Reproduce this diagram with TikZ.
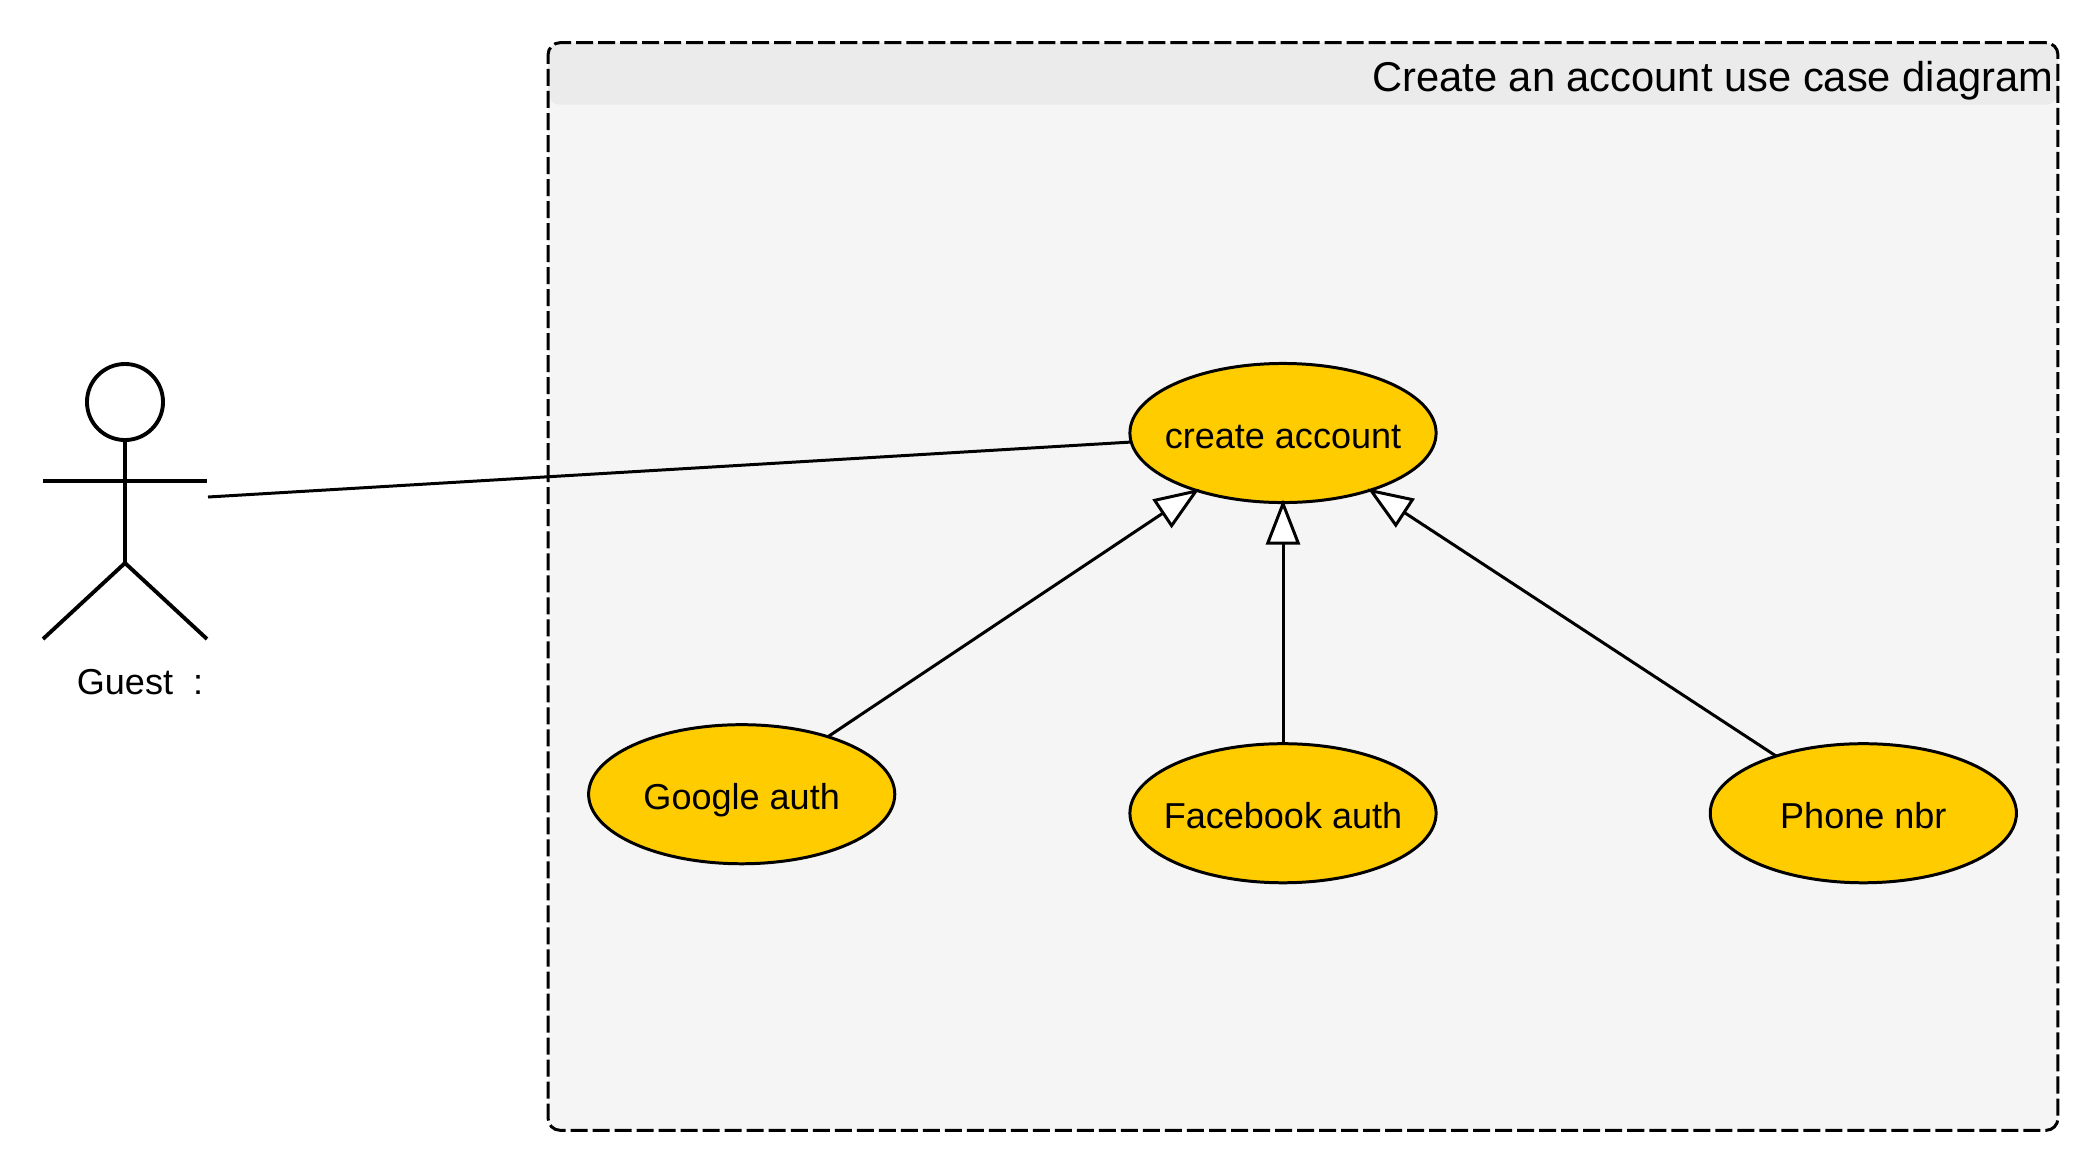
\documentclass[tikz,border=0pt]{standalone}
\usepackage{fontspec}
\setmainfont{Liberation Sans}
\usepackage{tikz}
\usetikzlibrary{shapes.geometric, arrows.meta}
\usetikzlibrary{positioning}
\definecolor{systembody}{HTML}{F5F5F5}
\definecolor{systemhead}{HTML}{EBEBEB}
\definecolor{usecasefill}{HTML}{FFCC00}
\tikzstyle{usecase} = [ellipse, minimum width=3.06cm, minimum height=1.39cm, inner sep=0pt, outer sep=0pt, text centered, text height=0.3cm, text depth=0pt, draw=black, line width=0.85pt, fill=usecasefill, font=\fontsize{10.25}{12}\selectfont]
\tikzstyle{system} = [rectangle, rounded corners=0.12cm, minimum width=15.09cm, minimum height=10.87cm, outer sep=0pt, draw=black, line width=0.85pt, dash pattern=on 0.17cm off 0.05cm, fill=systembody]
\tikzstyle{actorline} = [line width=1.1pt, draw=black]
\tikzstyle{assoc} = [line width=0.85pt]
\tikzstyle{inherit} = [line width=0.85pt, shorten >=-0.03cm, -{Triangle[length=0.45cm, width=0.34cm, fill=white]}]

\begin{document}
\begin{tikzpicture}[x=0.01cm, y=-0.01cm]
  \useasboundingbox (0,0) rectangle (2100,1172);

        % System boundary
        \node (boundary) [system, path picture={
            \fill [systemhead] (path picture bounding box.north west) rectangle ([yshift=-0.62cm]path picture bounding box.north east);
          }] at (1303,586.5) {};
        \node (title) [anchor=east, inner sep=0pt, font=\fontsize{11.85}{14}\selectfont] at (2054,81) {Create an account use case diagram};

        % Actor
        \node (head) [circle, minimum size=0.76cm, inner sep=0pt, outer sep=0pt, actorline] at (125,402) {};
        \coordinate (shoulder) at (125,481);
        \coordinate (armleft) at (43,481);
        \coordinate (armright) at (207,481);
        \coordinate (hip) at (125,563);
        \coordinate (footleft) at (43,639);
        \coordinate (footright) at (207,639);
        \coordinate (guestport) at (208,497);
        \node (guest) [font=\fontsize{10.25}{12}\selectfont, inner sep=0pt] at (140,682) {Guest\ \ :};

        % Use cases
        \node (create) [usecase] at (1283,433) {\makebox[0pt]{create account}};
        \node (facebook) [usecase, below=2.41cm of create] {\makebox[0pt]{Facebook auth}};
        \node (google) [usecase, left=2.35cm of facebook, yshift=0.19cm] {\makebox[0pt]{Google auth}};
        \node (phone) [usecase, right=2.74cm of facebook] {\makebox[0pt]{Phone nbr}};

        % Actor body
        \draw [actorline] (head) -- (hip);
        \draw [actorline] (armleft) -- (armright);
        \draw [actorline] (footleft) -- (hip) -- (footright);

        % Arrows
        \draw [assoc] (guestport) -- (create);
        \draw [inherit] (google) -- (create);
        \draw [inherit] (facebook) -- (create);
        \draw [inherit] (phone) -- (create);

    \end{tikzpicture}
\end{document}
